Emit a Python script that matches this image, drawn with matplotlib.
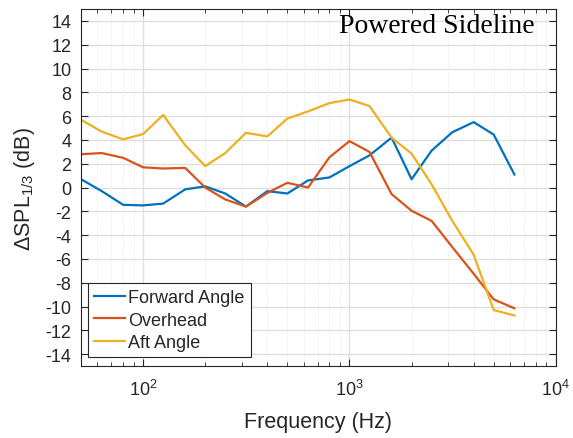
import matplotlib
matplotlib.use("Agg")
import matplotlib.pyplot as plt
from matplotlib.ticker import LogLocator, NullFormatter, MultipleLocator

plt.rcParams['font.family'] = ['Liberation Sans', 'DejaVu Sans']
plt.rcParams['mathtext.fontset'] = 'custom'
plt.rcParams['mathtext.rm'] = 'Liberation Sans'
plt.rcParams['mathtext.it'] = 'Liberation Sans:italic'
plt.rcParams['axes.unicode_minus'] = False

freq = [50, 63, 80, 100, 125, 160, 200, 250, 315, 400, 500, 630, 800,
        1000, 1250, 1600, 2000, 2500, 3150, 4000, 5000, 6300]
forward = [0.7, -0.3, -1.45, -1.5, -1.35, -0.15, 0.1, -0.5, -1.6, -0.3, -0.5, 0.6, 0.85,
           1.8, 2.7, 4.2, 0.7, 3.1, 4.65, 5.5, 4.45, 1.1]
overhead = [2.8, 2.9, 2.5, 1.7, 1.6, 1.65, 0.0, -1.0, -1.6, -0.45, 0.4, 0.0, 2.55,
            3.9, 3.0, -0.55, -1.95, -2.8, -5.0, -7.25, -9.4, -10.15]
aft = [5.7, 4.7, 4.05, 4.5, 6.1, 3.55, 1.8, 2.9, 4.6, 4.3, 5.8, 6.4, 7.1,
       7.4, 6.85, 4.2, 2.85, 0.28, -2.8, -5.65, -10.3, -10.75]
series_names = ["Forward Angle", "Overhead", "Aft Angle"]
colors = ["#0072BD", "#D95319", "#EDB120"]

fig = plt.figure(figsize=(5.73, 4.39), dpi=100)
ax = fig.add_axes([0.1414, 0.164, 0.8286, 0.813])

for vals, name, c in zip([forward, overhead, aft], series_names, colors):
    ax.plot(freq, vals, color=c, lw=1.6, label=name)

ax.set_xscale('log')
ax.set_xlim(50, 1e4)
ax.set_ylim(-15, 15)
ax.yaxis.set_major_locator(MultipleLocator(2))
ax.xaxis.set_minor_locator(LogLocator(base=10, subs=range(2, 10)))
ax.xaxis.set_minor_formatter(NullFormatter())

ax.grid(True, which='major', color='#dedede', lw=0.9)
ax.grid(True, which='minor', axis='x', color='#e4e4e4', lw=0.7, ls=':')
ax.set_axisbelow(True)

dark = '#262626'
for s in ax.spines.values():
    s.set_color(dark)
    s.set_linewidth(0.8)
ax.tick_params(which='both', direction='in', top=True, right=True, colors=dark,
               labelsize=13, labelcolor=dark)
ax.tick_params(which='major', length=5)
ax.tick_params(which='minor', length=3)
ax.tick_params(axis='x', pad=9)
ax.tick_params(axis='y', pad=7)

ax.set_xlabel('Frequency (Hz)', fontsize=15.5, color=dark, labelpad=9)
ax.set_ylabel(r'ΔSPL$_{1/3}$ (dB)', fontsize=15.5, color=dark, labelpad=6)

ax.text(0.956, 0.988, 'Powered Sideline', transform=ax.transAxes, ha='right', va='top',
        fontsize=20, family=['Liberation Serif'], color='black')

leg = ax.legend(loc='lower left', bbox_to_anchor=(0.014, 0.024), fontsize=13,
                frameon=True, fancybox=False, edgecolor=dark, framealpha=1,
                handlelength=1.7, handletextpad=0.2, borderpad=0.35, labelspacing=0.3,
                borderaxespad=0)
leg.get_frame().set_linewidth(0.8)
for t in leg.get_texts():
    t.set_color(dark)

fig.savefig('out.png', dpi=100)
